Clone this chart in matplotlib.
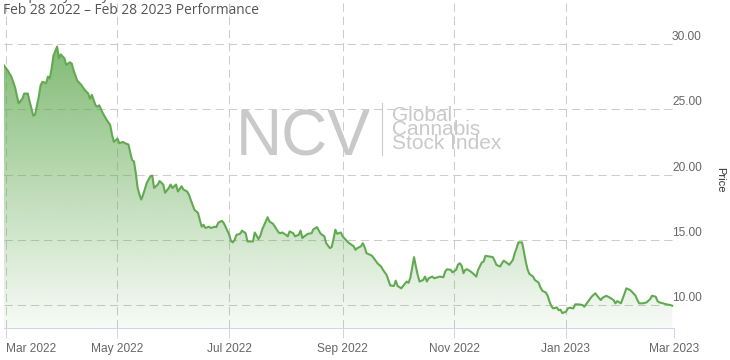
import matplotlib
matplotlib.use("Agg")
import matplotlib.pyplot as plt
import matplotlib.dates as mdates
import matplotlib.transforms as mtransforms
from matplotlib.colors import to_rgb
import numpy as np
import pandas as pd

# --- data ---
start_date = "2022-02-28"
day_offset = [
    0, 2, 4, 6, 8, 10, 11, 13, 14, 16, 17, 19, 20, 21, 23, 24, 25, 26, 27, 29,
    30, 31, 33, 34, 36, 37, 38, 40, 42, 44, 46, 47, 48, 50, 51, 52, 54, 56, 58, 59,
    60, 62, 63, 65, 66, 68, 69, 70, 71, 72, 73, 74, 75, 76, 78, 80, 81, 82, 84, 85,
    87, 88, 90, 91, 92, 94, 95, 97, 98, 100, 101, 103, 104, 106, 107, 108, 109, 110, 112, 113,
    115, 116, 117, 119, 120, 121, 123, 124, 125, 126, 127, 129, 130, 132, 133, 135, 136, 137, 139, 140,
    141, 143, 144, 145, 147, 148, 150, 151, 152, 154, 155, 156, 158, 159, 161, 162, 163, 164, 166, 168,
    169, 171, 172, 173, 175, 176, 178, 179, 180, 181, 182, 184, 185, 186, 188, 189, 191, 192, 193, 195,
    196, 197, 198, 200, 201, 203, 204, 206, 207, 209, 210, 211, 213, 214, 215, 217, 218, 220, 221, 222,
    224, 225, 226, 227, 229, 230, 231, 232, 234, 235, 237, 238, 240, 241, 242, 244, 245, 247, 248, 249,
    250, 251, 252, 253, 255, 256, 258, 259, 261, 262, 263, 265, 267, 268, 269, 271, 272, 273, 275, 276,
    278, 279, 280, 281, 283, 284, 285, 286, 287, 289, 290, 292, 293, 294, 296, 297, 298, 299, 300, 302,
    303, 304, 305, 307, 308, 309, 311, 312, 314, 316, 317, 319, 321, 323, 324, 326, 327, 329, 331, 333,
    334, 335, 337, 338, 339, 340, 342, 343, 345, 346, 347, 349, 351, 353, 354, 356, 357, 358, 360, 362,
    364, 365,
]
price = [
    28.36, 27.98, 27.5, 26.7, 25.45, 25.8, 26.2, 26.2, 25.6, 24.5, 24.6, 25.96, 26.84, 27.1, 27.0, 27.5, 27.35, 28.1, 29.1, 29.8,
    28.9, 29.2, 28.9, 28.4, 28.6, 28.5, 27.98, 27.2, 26.9, 26.5, 26.2, 25.8, 26.1, 25.3, 25.2, 25.3, 24.7, 24.2, 23.8, 23.06,
    22.5, 22.75, 22.4, 22.5, 22.4, 22.3, 21.67, 21.1, 21.0, 20.1, 18.97, 18.46, 18.08, 18.46, 19.36, 19.87, 19.92, 18.97, 19.23, 19.5,
    19.23, 18.6, 18.97, 19.23, 18.97, 19.23, 18.7, 19.1, 18.85, 18.7, 18.46, 17.7, 17.3, 17.05, 16.5, 16.0, 16.15, 15.9, 16.0, 15.9,
    16.0, 15.97, 16.3, 16.45, 16.3, 16.0, 15.4, 14.9, 14.8, 15.0, 15.38, 15.46, 15.7, 15.5, 14.87, 14.87, 14.87, 15.56, 15.05, 15.3,
    15.77, 16.4, 16.73, 16.4, 16.22, 16.0, 15.56, 15.5, 15.56, 15.38, 15.26, 15.64, 15.5, 15.26, 15.38, 15.7, 15.13, 15.26, 15.46, 15.5,
    15.8, 15.97, 15.7, 15.46, 15.26, 14.74, 14.36, 14.44, 15.05, 15.77, 15.46, 15.56, 15.26, 15.1, 14.8, 14.7, 14.5, 14.23, 14.36, 14.5,
    14.74, 14.44, 13.97, 13.85, 13.77, 13.4, 13.2, 12.95, 12.7, 12.3, 11.9, 11.5, 11.46, 11.87, 11.46, 11.28, 11.46, 11.8, 11.7, 12.1,
    13.67, 12.95, 12.3, 11.8, 11.92, 12.18, 11.8, 12.05, 12.18, 12.05, 12.13, 12.18, 12.13, 12.56, 12.74, 12.7, 12.5, 12.7, 13.1, 13.2,
    13.0, 12.44, 12.7, 12.74, 12.56, 12.44, 12.18, 12.7, 13.26, 13.33, 13.77, 13.72, 13.67, 13.4, 13.08, 12.95, 13.2, 13.4, 13.2, 13.08,
    13.46, 13.97, 14.36, 14.8, 14.8, 14.1, 13.33, 12.74, 12.38, 12.18, 11.92, 11.72, 11.36, 11.1, 10.95, 10.7, 10.26, 9.92, 9.74, 9.82,
    9.6, 9.65, 9.38, 9.49, 9.74, 9.8, 9.74, 10.05, 10.05, 10.0, 9.87, 10.26, 10.64, 10.9, 10.71, 10.38, 10.56, 10.71, 10.56, 10.38,
    10.13, 10.3, 10.13, 10.5, 10.9, 11.28, 11.15, 11.02, 10.71, 10.38, 10.13, 10.13, 10.2, 10.46, 10.71, 10.64, 10.3, 10.2, 10.13, 10.05,
    10.0, 9.95,
]
tick_dates = ["2022-03-01", "2022-05-01", "2022-07-01", "2022-09-01",
              "2022-11-01", "2023-01-01", "2023-03-01"]
tick_labels = ["Mar 2022", "May 2022", "Jul 2022", "Sep 2022",
               "Nov 2022", "Jan 2023", "Mar 2023"]
y_ticks = [10, 15, 20, 25, 30]

title = "Feb 28 2022 \u2013 Feb 28 2023 Performance"
subtitle_cut = "Frequency: Daily"
logo_big = "NCV"
logo_small = "Global\nCannabis\nStock Index"

# --- style ---
W, H = 730, 360
line_color = "#62aa52"
fill_color = "#62aa52"
grid_color = "#cccccc"
axis_color = "#ccd6eb"
label_color = "#666666"
mark_color = "#c9c9c9"

plt.rcParams["font.family"] = ["Liberation Sans", "DejaVu Sans"]
plt.rcParams["lines.scale_dashes"] = False

fig = plt.figure(figsize=(W / 100, H / 100), dpi=100)
ax = fig.add_axes([4 / W, 1 - 328 / H, 670 / W, 328 / H])


def fpx(x, y):
    return x / W, 1 - y / H


dates = pd.Timestamp(start_date) + pd.to_timedelta(day_offset, unit="D")
xs = mdates.date2num(dates)
x0 = mdates.date2num(pd.Timestamp("2022-02-28"))
x1 = mdates.date2num(pd.Timestamp("2023-03-01"))
ymin, ymax = 8.24, 33.37

# gradient area under the line
grad = np.zeros((256, 1, 4))
grad[:, 0, :3] = to_rgb(fill_color)
grad[:, 0, 3] = np.linspace(0.92, 0.05, 256)
im = ax.imshow(grad, aspect="auto", extent=[x0, x1, ymin, ymax],
               origin="upper", zorder=1, interpolation="bilinear")
poly = ax.fill_between(xs, price, ymin, facecolor="none", edgecolor="none")
im.set_clip_path(poly.get_paths()[0], transform=ax.transData)

ax.plot(xs, price, color=line_color, lw=1.5, zorder=3, solid_joinstyle="round")

ax.set_xlim(x0, x1)
ax.set_ylim(ymin, ymax)

# grid
ax.set_xticks(mdates.date2num(pd.to_datetime(tick_dates)))
ax.set_xticklabels(tick_labels)
ax.set_yticks(y_ticks)
ax.grid(True, color=grid_color, lw=0.75, linestyle=(0, (6, 3.5)), zorder=0)
ax.set_axisbelow(True)

for side in ["top", "left", "right"]:
    ax.spines[side].set_visible(False)
ax.spines["bottom"].set_color(axis_color)
ax.spines["bottom"].set_linewidth(0.75)

ax.tick_params(axis="x", length=7.2, width=0.75, color=axis_color,
               labelsize=8.6, labelcolor=label_color, pad=3.5)
ax.tick_params(axis="y", length=0, labelleft=False, labelright=False)
ax.get_xticklabels()[0].set_horizontalalignment("left")
ax.set_facecolor("none")

# right-side value labels, sitting above their gridlines
ytrans = mtransforms.blended_transform_factory(ax.transAxes, ax.transData)
ytrans = mtransforms.offset_copy(ytrans, fig=fig, x=-2, y=7, units="dots")
for v in y_ticks:
    ax.text(1.0, v, f"{v:.2f}", transform=ytrans, ha="left", va="center",
            fontsize=8.6, color=label_color)

fig.text(*fpx(720, 180), "Price", rotation=270, ha="center", va="center",
         fontsize=8, color="#333333")

# header (the first line is cut off by the top edge, as in the reference)
fig.text(*fpx(3, 11), title, ha="left", va="center", fontsize=9.9,
         color="#555555", family=["Open Sans", "DejaVu Sans"])
fig.text(*fpx(3, -1), subtitle_cut, ha="left", va="baseline", fontsize=9.9,
         color="#555555", family=["Open Sans", "DejaVu Sans"])

# watermark logo
fig.text(*fpx(236, 155), logo_big, ha="left", va="baseline", fontsize=46,
         color=mark_color, zorder=2)
fig.add_artist(plt.Line2D([382 / W, 382 / W], [1 - 103 / H, 1 - 155 / H],
                          color=mark_color, lw=0.8))
fig.text(*fpx(392, 106), logo_small, ha="left", va="top", fontsize=15,
         color=mark_color, linespacing=0.66)

fig.savefig("out.png", dpi=100)
